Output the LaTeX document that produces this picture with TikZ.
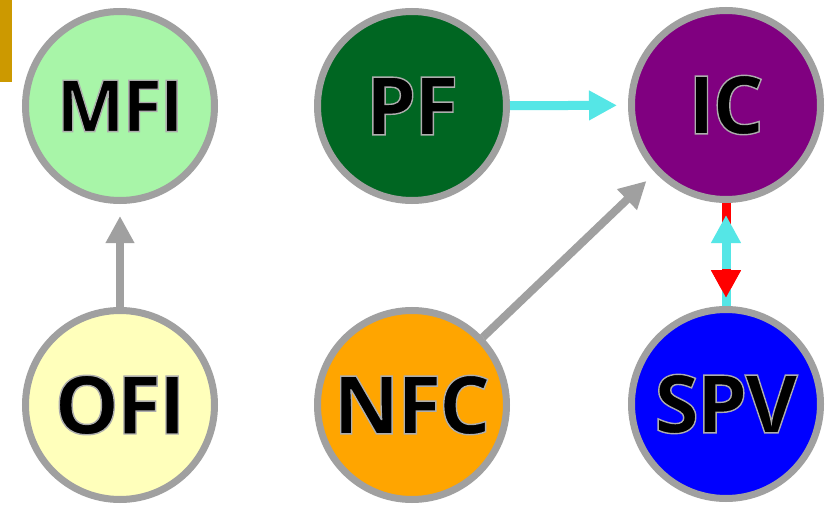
\documentclass[tikz,border=0pt]{standalone}
\usepackage{fontspec}
\setmainfont{Open Sans}[LetterSpace=-3]
\usetikzlibrary{arrows.meta}
\definecolor{ringgray}{RGB}{160,160,160}
\definecolor{mficol}{RGB}{168,245,168}
\definecolor{pfcol}{RGB}{0,102,34}
\definecolor{iccol}{RGB}{128,0,128}
\definecolor{oficol}{RGB}{255,255,187}
\definecolor{nfccol}{RGB}{255,165,0}
\definecolor{spvcol}{RGB}{0,0,255}
\definecolor{cyanarr}{RGB}{85,230,230}
\definecolor{grayarr}{RGB}{160,160,160}
\definecolor{redarr}{RGB}{255,0,0}
\definecolor{goldbar}{RGB}{204,153,0}
\newcommand{\lbl}[1]{\special{pdf:code 2 Tr 0.68 G 1.4 w}#1\special{pdf:code 0 Tr}}
\begin{document}
\begin{tikzpicture}[x=1pt,y=-1pt,
  ball/.style={circle, draw=ringgray, line width=7pt, minimum size=189pt, inner sep=0pt,
    font=\bfseries\fontsize{81}{81}\selectfont},
  grayconn/.style={draw=grayarr, line width=8pt, -{Triangle[width=27pt,length=27pt]}},
  cyanconn/.style={draw=cyanarr, line width=9pt, -{Triangle[width=28pt,length=28pt]}},
  redconn/.style={draw=redarr, line width=9pt, -{Triangle[width=28pt,length=28pt]}}]
\useasboundingbox (0,0) rectangle (828,508);
\fill[white] (0,0) rectangle (828,508);
\fill[goldbar] (0,0) rectangle (12,82);

\node[ball, fill=mficol] (mfi) at (120,106) {\fontsize{72}{72}\selectfont\lbl{MFI}};
\node[ball, fill=pfcol]  (pf)  at (412,106) {\lbl{PF}};
\node[ball, fill=iccol]  (ic)  at (726,105) {\lbl{IC}};
\node[ball, fill=oficol] (ofi) at (120,405) {\lbl{OFI}};
\node[ball, fill=nfccol] (nfc) at (412,405) {\lbl{NFC}};
\node[ball, fill=spvcol] (spv) at (726,404) {\lbl{SPV}};

\draw[grayconn, shorten >=12pt] (ofi) -- (mfi);
\draw[cyanconn, shorten >=11pt] (pf) -- (ic);
\draw[grayconn, shorten >=12pt] (nfc) -- (ic);

\draw[redconn, shorten >=8pt] (ic) -- (spv);
\draw[cyanconn, shorten >=12pt] (spv) -- (ic);
\path (spv.north) ++(0,-37) coordinate (redhead);
\draw[redconn, shorten >=8pt] (redhead) -- (spv);
\end{tikzpicture}
\end{document}
